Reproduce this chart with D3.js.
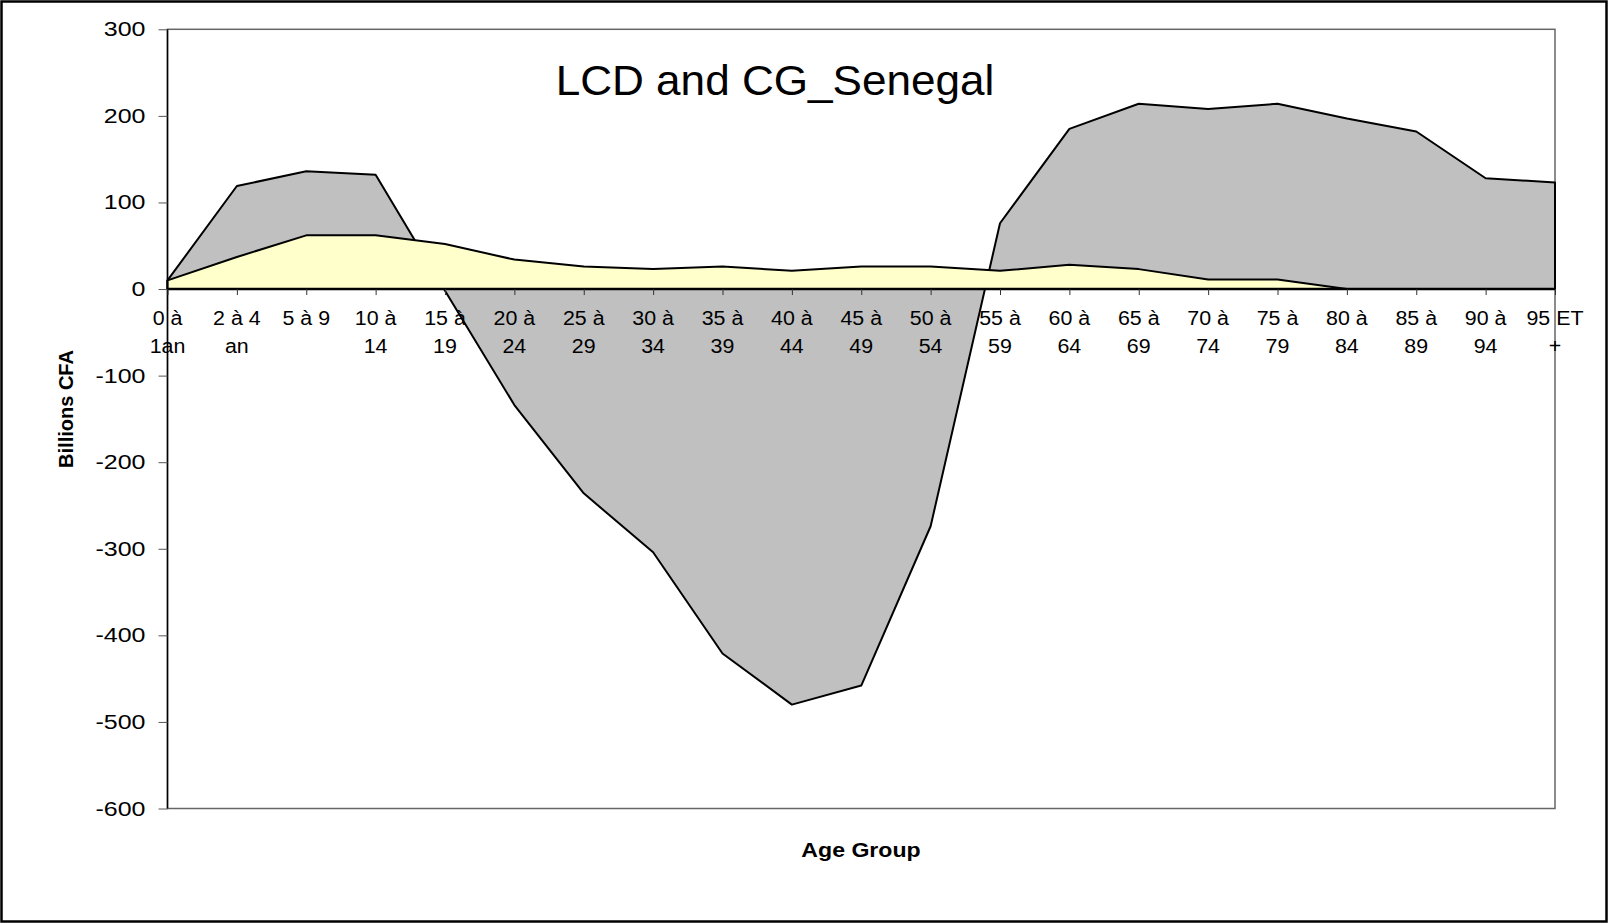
<!DOCTYPE html>
<meta charset="utf-8">
<script src="https://cdn.jsdelivr.net/npm/d3@7"></script>
<style>
	body { margin: 0; background: #fff; }
	text { font-family: "Liberation Sans", Arial, sans-serif; fill: #000; }
</style>
<body>
<script>
// age groups, two lines per label as in the source sheet
var ageGroups = ["0 à 1an", "2 à 4 an", "5 à 9", "10 à 14", "15 à 19", "20 à 24", "25 à 29", "30 à 34", "35 à 39", "40 à 44",
	"45 à 49", "50 à 54", "55 à 59", "60 à 64", "65 à 69", "70 à 74", "75 à 79", "80 à 84", "85 à 89", "90 à 94", "95 ET +"];
var labelTop = ["0 à", "2 à 4", "5 à 9", "10 à", "15 à", "20 à", "25 à", "30 à", "35 à", "40 à",
	"45 à", "50 à", "55 à", "60 à", "65 à", "70 à", "75 à", "80 à", "85 à", "90 à", "95 ET"];
var labelBottom = ["1an", "an", "", "14", "19", "24", "29", "34", "39", "44",
	"49", "54", "59", "64", "69", "74", "79", "84", "89", "94", "+"];

// billions CFA
var lcd = [10, 119, 136, 132, -2, -134, -236, -304, -421, -480, -458, -274, 76, 185, 214, 208, 214, 197, 182, 128, 123];
var cg = [10, 37, 62, 62, 52, 34, 26, 23, 26, 21, 26, 26, 21, 28, 23, 11, 11, 0, 0, 0, 0];

var yTicks = [300, 200, 100, 0, -100, -200, -300, -400, -500, -600];

var W = 1608, H = 923,
	pLeft = 167.5, pRight = 1555, pTop = 29.3, pBottom = 808.5;

var svg = d3.select("body").append("svg")
	.attr("width", W)
	.attr("height", H);

var x = d3.scalePoint().domain(ageGroups).range([pLeft, pRight]).padding(0);
var y = d3.scaleLinear().domain([-600, 300]).range([pBottom, pTop]);

// outer frame
svg.append("rect")
	.attr("x", 1.5).attr("y", 1.5)
	.attr("width", W - 3).attr("height", H - 3)
	.style("fill", "none")
	.style("stroke", "#000")
	.style("stroke-width", 2.5);

// plot area border
svg.append("rect")
	.attr("x", pLeft).attr("y", pTop)
	.attr("width", pRight - pLeft).attr("height", pBottom - pTop)
	.style("fill", "none")
	.style("stroke", "#666")
	.style("stroke-width", 1.5);

var area = d3.area()
	.x(function (d, i) { return x(ageGroups[i]); })
	.y0(y(0))
	.y1(function (d) { return y(d); });

svg.append("path")
	.datum(lcd)
	.attr("d", function (d) { return area(d) + "Z"; })
	.style("fill", "#c0c0c0")
	.style("stroke", "#000")
	.style("stroke-width", 2)
	.style("stroke-linejoin", "round");

svg.append("path")
	.datum(cg)
	.attr("d", function (d) { return area(d) + "Z"; })
	.style("fill", "#ffffcc")
	.style("stroke", "#000")
	.style("stroke-width", 2)
	.style("stroke-linejoin", "round");

// y axis
var yAxis = svg.append("g")
	.attr("transform", "translate(" + pLeft + ",0)")
	.call(d3.axisLeft(y).tickValues(yTicks).tickSize(9).tickFormat(""));
yAxis.select(".domain").attr("d", "M0," + pTop + "V" + pBottom).style("stroke", "#000").style("stroke-width", 1.5);
yAxis.selectAll(".tick line").style("stroke", "#555");

yAxis.selectAll(".ylab")
	.data(yTicks)
	.enter()
	.append("g")
	.attr("transform", function (d) { return "translate(-22," + (y(d) + 7) + ") scale(1.25,1)"; })
	.append("text")
	.style("text-anchor", "end")
	.style("font-size", "20px")
	.text(function (d) { return d; });

// category axis on zero
var xAxis = svg.append("g")
	.attr("transform", "translate(0," + y(0) + ")")
	.call(d3.axisBottom(x).tickSize(6).tickFormat(""));
xAxis.select(".domain").attr("d", "M" + pLeft + ",0H" + pRight).style("stroke", "#000").style("stroke-width", 2.5);
xAxis.selectAll(".tick line").style("stroke", "#333");

var xl = svg.selectAll(".xlab")
	.data(ageGroups)
	.enter()
	.append("g")
	.attr("class", "xlab")
	.attr("transform", function (d) { return "translate(" + x(d) + ",0) scale(1.07,1)"; });

xl.append("text")
	.attr("y", 325)
	.style("text-anchor", "middle")
	.style("font-size", "20px")
	.text(function (d, i) { return labelTop[i]; });

xl.append("text")
	.attr("y", 353)
	.style("text-anchor", "middle")
	.style("font-size", "20px")
	.text(function (d, i) { return labelBottom[i]; });

// titles
svg.append("g")
	.attr("transform", "translate(775,95) scale(1.05,1)")
	.append("text")
	.style("text-anchor", "middle")
	.style("font-size", "42px")
	.text("LCD and CG_Senegal");

svg.append("g")
	.attr("transform", "translate(861,857) scale(1.1,1)")
	.append("text")
	.style("text-anchor", "middle")
	.style("font-size", "21px")
	.style("font-weight", "bold")
	.text("Age Group");

svg.append("text")
	.attr("transform", "translate(73,409) rotate(-90)")
	.style("text-anchor", "middle")
	.style("font-size", "20px")
	.style("font-weight", "bold")
	.text("Billions CFA");
</script>
</body>
